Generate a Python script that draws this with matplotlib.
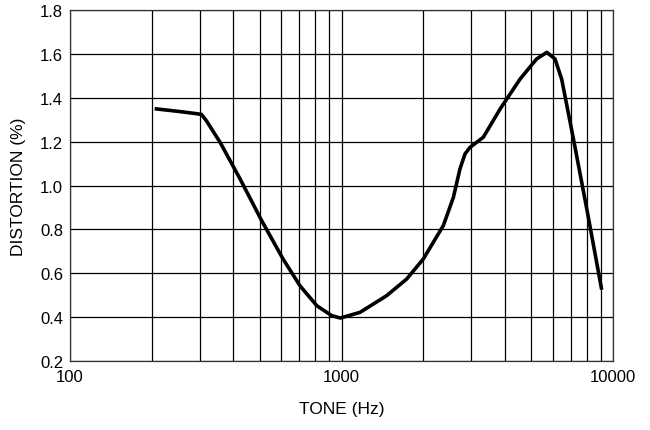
import numpy as np
import matplotlib.pyplot as plt
from matplotlib.ticker import FixedLocator, NullFormatter

plt.rcParams['font.family'] = ['Liberation Sans', 'DejaVu Sans']

# curve
tone_hz = [205, 250, 290, 305, 318, 357, 423, 508, 609, 703, 811, 920,
           990, 1170, 1466, 1738, 2000, 2177, 2370, 2580, 2729, 2848,
           2973, 3327, 3838, 4543, 5230, 5703, 6110, 6466, 7146, 8002,
           9080]
distortion = [1.35, 1.338, 1.328, 1.324, 1.295, 1.197, 1.03, 0.84, 0.665,
              0.543, 0.452, 0.407, 0.396, 0.422, 0.498, 0.574, 0.665,
              0.741, 0.817, 0.945, 1.075, 1.144, 1.174, 1.22, 1.349,
              1.485, 1.577, 1.607, 1.577, 1.485, 1.212, 0.893, 0.525]

x_ticks = [100, 1000, 10000]
y_ticks = [0.2, 0.4, 0.6, 0.8, 1.0, 1.2, 1.4, 1.6, 1.8]

fig = plt.figure(figsize=(6.5, 4.31), dpi=100)
ax = fig.add_axes([0.1077, 0.160, 0.8355, 0.8145])

ax.plot(tone_hz, distortion, color='k', lw=2.6, solid_joinstyle='round',
        solid_capstyle='butt')

ax.set_xscale('log')
ax.set_xlim(100, 10000)
ax.set_ylim(0.2, 1.8)
ax.xaxis.set_major_locator(FixedLocator(x_ticks))
ax.xaxis.set_minor_locator(FixedLocator(
    [m * d for d in (100, 1000) for m in range(2, 10)]))
ax.xaxis.set_minor_formatter(NullFormatter())
ax.set_xticklabels(['100', '1000', '10000'])
ax.set_yticks(y_ticks)
ax.set_yticklabels(['%.1f' % v for v in y_ticks])

ax.grid(True, which='both', axis='x', color='k', lw=0.9)
ax.grid(True, which='major', axis='y', color='k', lw=0.9)
ax.tick_params(which='both', length=0, labelsize=12)
ax.tick_params(axis='x', pad=6)
ax.tick_params(axis='y', pad=5)
for s in ax.spines.values():
    s.set_color('#333333')
    s.set_linewidth(0.9)

ax.set_xlabel('TONE (Hz)', fontsize=12.5, labelpad=12)
ax.set_ylabel('DISTORTION (%)', fontsize=12.5, labelpad=10)

plt.savefig('out.png', dpi=100)
